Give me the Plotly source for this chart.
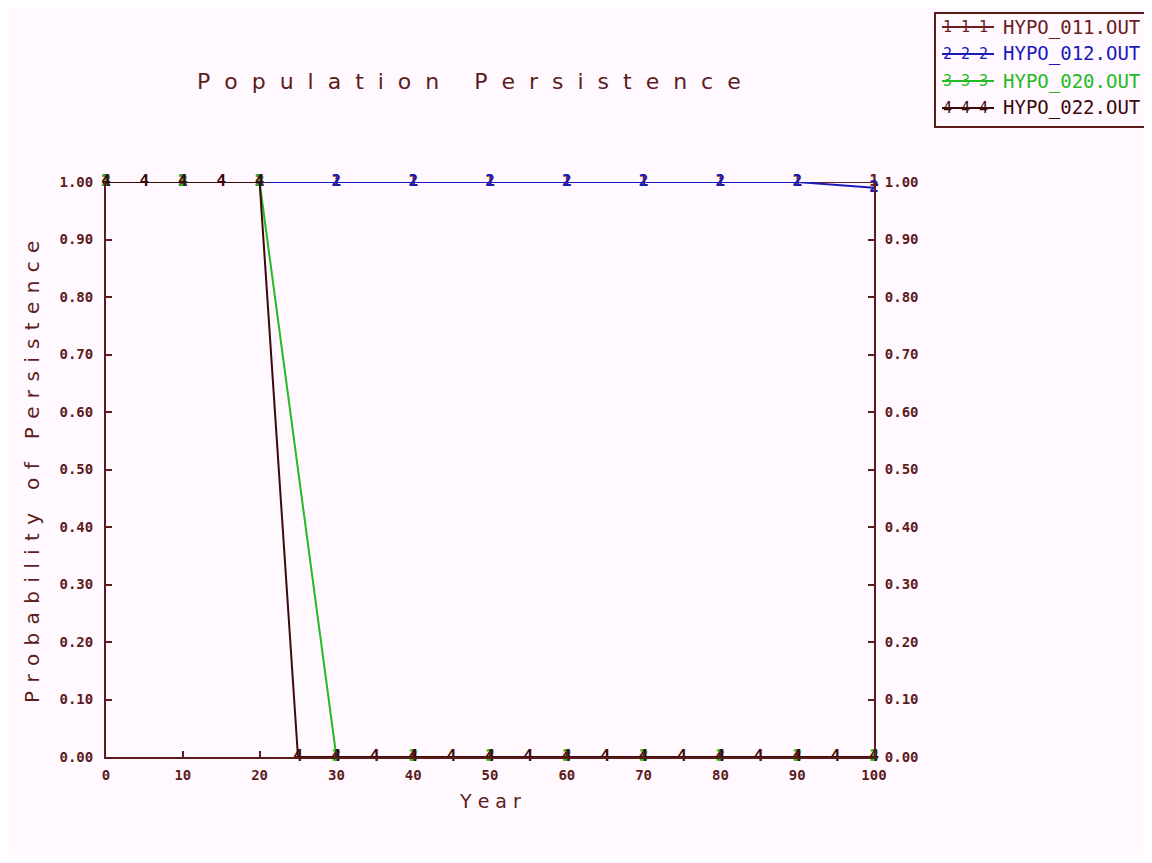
import plotly.graph_objects as go

# ---- data ----
years_10 = [0, 10, 20, 30, 40, 50, 60, 70, 80, 90, 100]
years_5 = [0, 5, 10, 15, 20, 25, 30, 35, 40, 45, 50, 55, 60, 65, 70, 75, 80, 85, 90, 95, 100]

s1_name = "HYPO_011.OUT"
s1_y = [1, 1, 1, 1, 1, 1, 1, 1, 1, 1, 1]
s2_name = "HYPO_012.OUT"
s2_y = [1, 1, 1, 1, 1, 1, 1, 1, 1, 1, 0.99]
s3_name = "HYPO_020.OUT"
s3_y = [1, 1, 1, 0, 0, 0, 0, 0, 0, 0, 0]
s4_name = "HYPO_022.OUT"
s4_y = [1, 1, 1, 1, 1, 0, 0, 0, 0, 0, 0, 0, 0, 0, 0, 0, 0, 0, 0, 0, 0]

yticks = [0.0, 0.1, 0.2, 0.3, 0.4, 0.5, 0.6, 0.7, 0.8, 0.9, 1.0]
ytick_text = ["0.00", "0.10", "0.20", "0.30", "0.40", "0.50", "0.60", "0.70", "0.80", "0.90", "1.00"]
xticks = [0, 10, 20, 30, 40, 50, 60, 70, 80, 90, 100]
xtick_text = ["0", "10", "20", "30", "40", "50", "60", "70", "80", "90", "100"]

series = [
    (s1_name, years_10, s1_y, "1", "#6a2020"),
    (s2_name, years_10, s2_y, "2", "#1a1ab8"),
    (s3_name, years_10, s3_y, "3", "#22bb22"),
    (s4_name, years_5, s4_y, "4", "#3c0a0a"),
]

AX = "#5c1c1c"
BG = "#fff8ff"
MONO = "DejaVu Sans Mono"
NB = "\u00a0"
HAIR = "\u200a"

fig = go.Figure()
for name, xs, ys, mk, col in series:
    fig.add_trace(go.Scatter(
        x=xs, y=ys, name=name, mode="lines+text",
        text=[mk] * len(xs), textposition="middle center",
        textfont=dict(family=MONO, size=16, color=col, weight="bold"),
        line=dict(color=col, width=2, shape="linear"),
        cliponaxis=False, showlegend=False,
    ))

# invisible trace for right axis
fig.add_trace(go.Scatter(x=[0], y=[0], yaxis="y2", mode="markers",
                         marker=dict(opacity=0), showlegend=False, hoverinfo="skip"))

OFF = 8  # page body margin
W, H = 1152 - 2 * OFF, 863 - 2 * OFF
L, R, T, B = 106 - OFF, 874 - OFF, 182 - OFF, 757 - OFF


def px(xp):
    return (xp - OFF - L) / (R - L)


def py(yp):
    return (B - (yp - OFF)) / (B - T)


def spread(s, gap):
    return gap.join(NB if c == " " else c for c in s)


def ann(text, x, y, size, color, family="DejaVu Sans", xanchor="center", angle=0):
    return dict(text=text, x=px(x), y=py(y), xref="paper", yref="paper",
                xanchor=xanchor, yanchor="middle", showarrow=False, textangle=angle,
                font=dict(family=family, size=size, color=color))


annotations = [
    ann(spread("Population Persistence", NB * 2), 469, 82, 22, AX),
    ann(spread("Probability of Persistence", NB + HAIR), 32, 472, 20, AX, angle=-90),
    ann(spread("Year", NB), 490, 801, 19, AX),
]

shapes = [
    dict(type="rect", xref="paper", yref="paper", x0=px(935), x1=px(1160),
         y0=py(13), y1=py(127), line=dict(color=AX, width=2), fillcolor=BG),
]
rows = [27, 54, 81, 108]
for (name, xs, ys, mk, col), ry in zip(series, rows):
    shapes.append(dict(type="line", xref="paper", yref="paper",
                       x0=px(942), x1=px(994), y0=py(ry), y1=py(ry),
                       line=dict(color=col, width=2)))
    annotations.append(ann(" ".join(mk * 3), 941, ry, 15, col, family=MONO, xanchor="left"))
    annotations.append(ann(name, 1001, ry, 19, col, family=MONO, xanchor="left"))

axis_common = dict(ticks="inside", ticklen=6, tickcolor=AX, tickwidth=2,
                   showline=True, linecolor=AX, linewidth=2, showgrid=False, zeroline=False,
                   tickfont=dict(family=MONO, size=14, color=AX, weight="bold"))

fig.update_layout(
    width=W, height=H,
    margin=dict(l=L, r=W - R, t=T, b=H - B, autoexpand=False),
    paper_bgcolor=BG, plot_bgcolor=BG,
    showlegend=False,
    xaxis=dict(range=[0, 100], tickvals=xticks, ticktext=xtick_text,
               ticklabelstandoff=4, **axis_common),
    yaxis=dict(range=[0, 1], tickvals=yticks, ticktext=ytick_text,
               ticklabelstandoff=8, **axis_common),
    yaxis2=dict(range=[0, 1], overlaying="y", side="right",
                tickvals=yticks, ticktext=ytick_text, ticklabelstandoff=6, **axis_common),
    annotations=annotations,
    shapes=shapes,
)

fig.write_html("out.html")
